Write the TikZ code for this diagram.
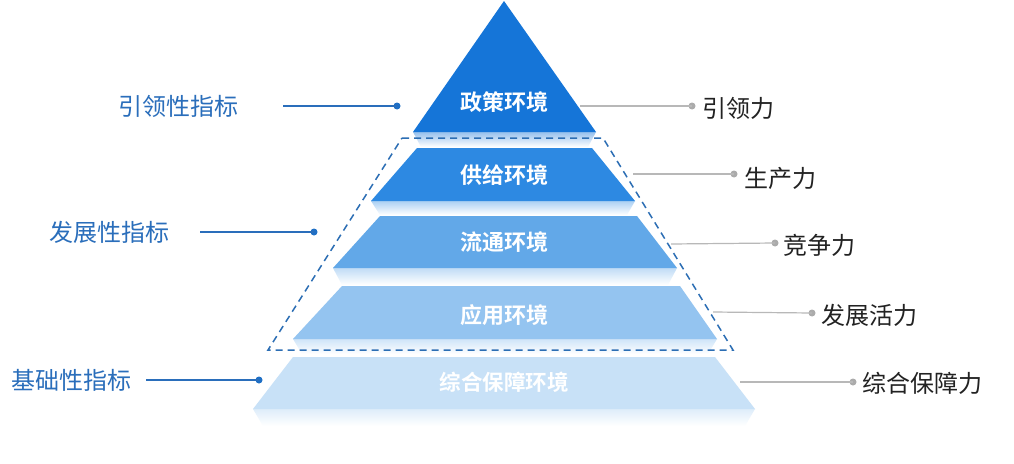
\documentclass[tikz,border=0pt]{standalone}
\usepackage{fontspec}
\newfontfamily\cjk{Noto Sans CJK SC}
\newfontfamily\cjkb{Noto Sans CJK SC Bold}
\definecolor{c1}{HTML}{1575D8}
\definecolor{c2}{HTML}{2D89E2}
\definecolor{c3}{HTML}{62A8E8}
\definecolor{c4}{HTML}{94C4F0}
\definecolor{c5}{HTML}{C8E1F7}
\definecolor{dashc}{HTML}{2C6EB4}
\definecolor{lblue}{HTML}{2A6EBB}
\definecolor{ldot}{HTML}{1F6FC5}
\definecolor{rgray}{HTML}{B8B8B8}
\definecolor{rdot}{HTML}{ABABAB}
\definecolor{rtext}{HTML}{222222}
\tikzset{
  layertext/.style={text=white, inner sep=0pt, font=\cjkb\fontsize{22}{22}\selectfont},
  lefttext/.style={text=lblue, inner sep=0pt, anchor=east, font=\cjk\fontsize{24}{24}\selectfont},
  righttext/.style={text=rtext, inner sep=0pt, anchor=west, font=\cjk\fontsize{24}{24}\selectfont},
  leftline/.style={draw=lblue, line width=1.2pt},
  rightline/.style={draw=rgray, line width=1.2pt},
  ldotstyle/.style={circle, fill=ldot, inner sep=0pt, minimum size=7pt},
  rdotstyle/.style={circle, fill=rdot, inner sep=0pt, minimum size=7pt},
  dashbox/.style={draw=dashc, line width=1.5pt, dash pattern=on 7pt off 5pt},
}
\begin{document}
\begin{tikzpicture}[x=1pt,y=-1pt]
\useasboundingbox (0,0) rectangle (1014,463);
\fill[white] (0,0) rectangle (1014,463);

% reflections
\shade[top color=c1!45, bottom color=white] (413,132) -- (596,132) -- (588,147) -- (421,147) -- cycle;
\shade[top color=c2!40, bottom color=white] (371,201) -- (635,201) -- (627,215) -- (380,215) -- cycle;
\shade[top color=c3!40, bottom color=white] (333,268) -- (677,268) -- (668,285) -- (342,285) -- cycle;
\shade[top color=c4!45, bottom color=white] (293,339) -- (717,339) -- (708,354) -- (302,354) -- cycle;
\shade[top color=c5!60, bottom color=white] (253,409) -- (755,409) -- (745,426) -- (263,426) -- cycle;

% layers
\fill[c1] (504,1) -- (596,132) -- (413,132) -- cycle;
\fill[c2] (417,148) -- (592,148) -- (635,201) -- (371,201) -- cycle;
\fill[c3] (380,216) -- (637,216) -- (677,268) -- (333,268) -- cycle;
\fill[c4] (342,286) -- (680,286) -- (717,339) -- (293,339) -- cycle;
\fill[c5] (293,357) -- (715,357) -- (755,409) -- (253,409) -- cycle;

% dashed frame
\draw[dashbox] (402,138) -- (603,138) -- (733,350) -- (268,350) -- cycle;

% layer texts
\node[layertext] (L1) at (504,102) {政策环境};
\node[layertext] (L2) at (504,175) {供给环境};
\node[layertext] (L3) at (504,242) {流通环境};
\node[layertext] (L4) at (504,315) {应用环境};
\node[layertext, font=\cjkb\fontsize{21.5}{21.5}\selectfont] (L5) at (504,382) {综合保障环境};

% left labels
\node[lefttext] (A) at (239,106) {引领性指标};
\node[lefttext] (B) at (170,232) {发展性指标};
\node[lefttext] (C) at (132,380) {基础性指标};
\coordinate (As) at (283,106);
\coordinate (Bs) at (200,232);
\coordinate (Cs) at (146,380);
\node[ldotstyle] (Ad) at (397,106) {};
\node[ldotstyle] (Bd) at (314,232) {};
\node[ldotstyle] (Cd) at (259,380) {};
\draw[leftline] (As) -- (Ad.center);
\draw[leftline] (Bs) -- (Bd.center);
\draw[leftline] (Cs) -- (Cd.center);

% right labels
\coordinate (R1s) at (580,106);
\coordinate (R2s) at (633,174);
\coordinate (R3s) at (671,244);
\coordinate (R4s) at (713,312);
\coordinate (R5s) at (740,382);
\node[rdotstyle] (R1d) at (692,106) {};
\node[rdotstyle] (R2d) at (734,174) {};
\node[rdotstyle] (R3d) at (775,243) {};
\node[rdotstyle] (R4d) at (812,313) {};
\node[rdotstyle] (R5d) at (853,382) {};
\draw[rightline] (R1s) -- (R1d.center);
\draw[rightline] (R2s) -- (R2d.center);
\draw[rightline] (R3s) -- (R3d.center);
\draw[rightline] (R4s) -- (R4d.center);
\draw[rightline] (R5s) -- (R5d.center);
\node[righttext] (R1) at (702,108) {引领力};
\node[righttext] (R2) at (744,178) {生产力};
\node[righttext] (R3) at (783,245) {竞争力};
\node[righttext] (R4) at (821,315) {发展活力};
\node[righttext] (R5) at (862,383) {综合保障力};
\end{tikzpicture}
\end{document}
